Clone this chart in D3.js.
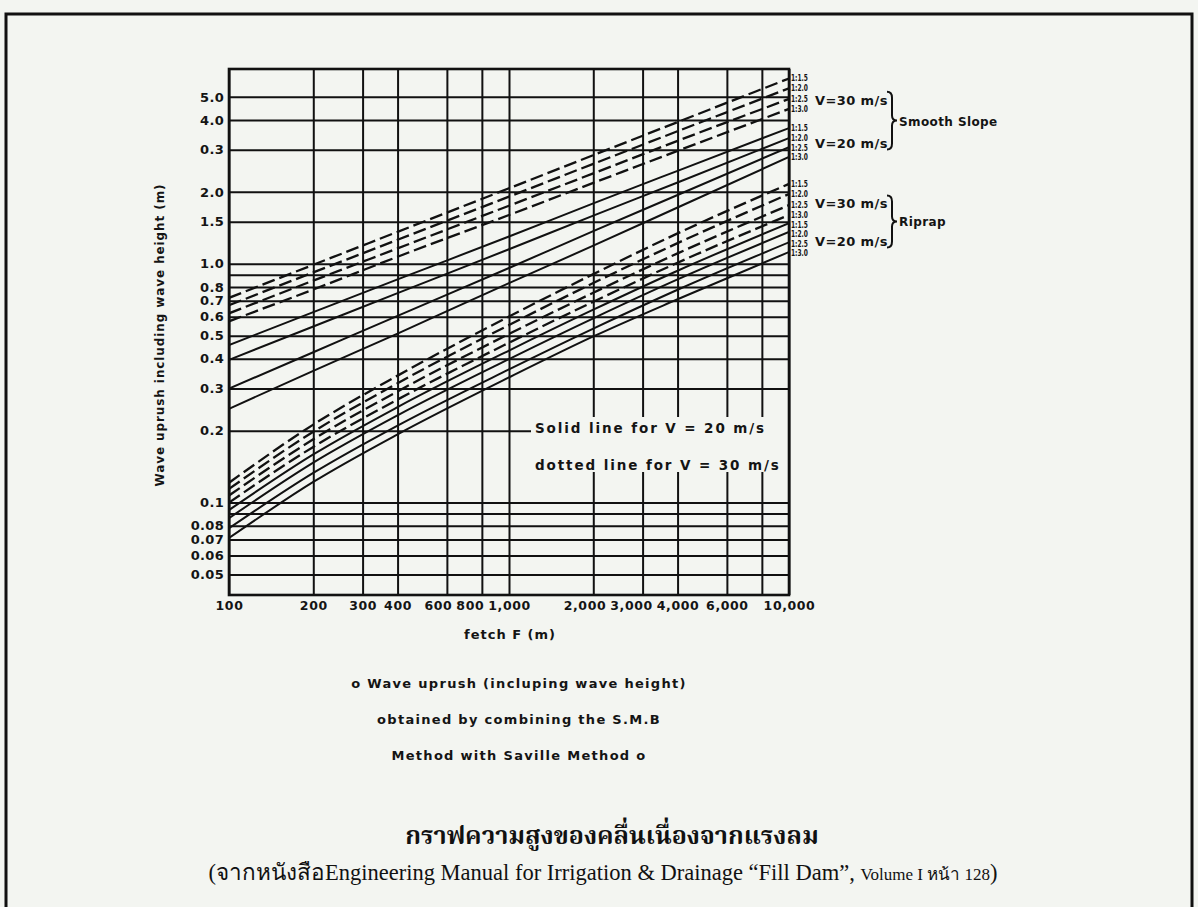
<!DOCTYPE html>
<html>
<head>
<meta charset="utf-8">
<script src="https://cdn.jsdelivr.net/npm/d3@7"></script>
<style>
body { margin: 0; background: #f3f5f1; }
svg { display: block; }
.plot text { font-family: "DejaVu Sans", sans-serif; font-weight: bold; fill: #141414; }
</style>
</head>
<body>
<div id="chart"></div>
<script>
var fetchValues = [100, 200, 400, 1000, 2000, 4000, 10000];
var slopes = ["1:1.5", "1:2.0", "1:2.5", "1:3.0"];

// wave uprush (m), one row per slope 1:1.5, 1:2.0, 1:2.5, 1:3.0
var smoothV30 = [
    [0.72, 0.99, 1.36, 2.07, 2.85, 3.92, 5.97],
    [0.67, 0.92, 1.26, 1.91, 2.62, 3.59, 5.43],
    [0.62, 0.85, 1.16, 1.75, 2.39, 3.27, 4.90],
    [0.574, 0.78, 1.07, 1.60, 2.18, 2.97, 4.45]
];
var smoothV20 = [
    [0.457, 0.627, 0.86, 1.30, 1.79, 2.45, 3.70],
    [0.396, 0.546, 0.753, 1.15, 1.59, 2.19, 3.36],
    [0.30, 0.426, 0.605, 0.96, 1.37, 1.94, 3.08],
    [0.247, 0.356, 0.51, 0.83, 1.19, 1.72, 2.80]
];
var riprapV30 = [
    [0.121, 0.212, 0.340, 0.601, 0.905, 1.34, 2.16],
    [0.114, 0.198, 0.316, 0.554, 0.830, 1.22, 1.96],
    [0.107, 0.184, 0.292, 0.508, 0.756, 1.105, 1.76],
    [0.100, 0.171, 0.270, 0.467, 0.693, 1.01, 1.60]
];
var riprapV20 = [
    [0.093, 0.159, 0.251, 0.433, 0.642, 0.935, 1.48],
    [0.086, 0.147, 0.232, 0.399, 0.591, 0.860, 1.36],
    [0.078, 0.133, 0.210, 0.361, 0.535, 0.778, 1.23],
    [0.071, 0.122, 0.193, 0.334, 0.496, 0.710, 1.12]
];

// grid + tick labels
var xGrid = [100, 200, 300, 400, 600, 800, 1000, 2000, 3000, 4000, 6000, 8000, 10000];
var xLabelValues = [100, 200, 300, 400, 600, 800, 1000, 2000, 3000, 4000, 6000, 10000];
var xLabelText = ["100", "200", "300", "400", "600", "800", "1,000", "2,000", "3,000", "4,000", "6,000", "10,000"];
var yGrid = [5, 4, 3, 2, 1.5, 1, 0.9, 0.8, 0.7, 0.6, 0.5, 0.4, 0.3, 0.2, 0.1, 0.09, 0.08, 0.07, 0.06, 0.05];
var yLabelValues = [5, 4, 3, 2, 1.5, 1, 0.8, 0.7, 0.6, 0.5, 0.4, 0.3, 0.2, 0.1, 0.08, 0.07, 0.06, 0.05];
var yLabelText = ["5.0", "4.0", "0.3", "2.0", "1.5", "1.0", "0.8", "0.7", "0.6", "0.5", "0.4", "0.3", "0.2", "0.1", "0.08", "0.07", "0.06", "0.05"];

var W = 1198, H = 907;
var plot = {left: 229, right: 789, top: 69, bottom: 595};

var svg = d3.select("#chart").append("svg")
    .attr("width", W)
    .attr("height", H);

// page frame
svg.append("rect")
    .attr("x", 6).attr("y", 14)
    .attr("width", 1186).attr("height", 910)
    .attr("fill", "none")
    .attr("stroke", "#111")
    .attr("stroke-width", 3);

var x = d3.scaleLog().domain([100, 10000]).range([plot.left, plot.right]);
var y = d3.scaleLog().domain([0.041, 6.54]).range([plot.bottom, plot.top]);

var g = svg.append("g").attr("class", "plot");

// grid lines
g.append("g")
    .attr("class", "xgrid")
    .attr("transform", "translate(0," + plot.bottom + ")")
    .call(d3.axisBottom(x).tickValues(xGrid).tickSize(-(plot.bottom - plot.top)).tickFormat(""))
    .call(function (s) { s.select(".domain").remove(); })
    .selectAll("line")
    .attr("stroke", "#111")
    .attr("stroke-width", 2);

g.append("g")
    .attr("class", "ygrid")
    .attr("transform", "translate(" + plot.left + ",0)")
    .call(d3.axisLeft(y).tickValues(yGrid).tickSize(-(plot.right - plot.left)).tickFormat(""))
    .call(function (s) { s.select(".domain").remove(); })
    .selectAll("line")
    .attr("stroke", "#111")
    .attr("stroke-width", 2);

// tick labels
var xLab = g.append("g")
    .attr("class", "xlabels")
    .attr("transform", "translate(0," + plot.bottom + ")")
    .call(d3.axisBottom(x).tickValues(xLabelValues).tickSize(0).tickPadding(6)
        .tickFormat(function (d) { return xLabelText[xLabelValues.indexOf(d)]; }))
    .call(function (s) { s.select(".domain").remove(); });
xLab.selectAll("text")
    .style("font-size", "12.5px")
    .style("letter-spacing", "0.6px");

// crowded labels slide to the left, like on the original sheet
var ticks = xLab.selectAll(".tick").nodes();
var nextLeft = Infinity;
for (var i = ticks.length - 1; i >= 0; i--) {
    var t = d3.select(ticks[i]).select("text");
    var w = t.node().getComputedTextLength();
    var cx = x(xLabelValues[i]);
    var shift = 0;
    if (cx + w / 2 > nextLeft - 4) shift = (nextLeft - 4) - (cx + w / 2);
    t.attr("dx", shift);
    nextLeft = cx + shift - w / 2;
}

g.append("g")
    .attr("class", "ylabels")
    .attr("transform", "translate(" + plot.left + ",0)")
    .call(d3.axisLeft(y).tickValues(yLabelValues).tickSize(0).tickPadding(5)
        .tickFormat(function (d) { return yLabelText[yLabelValues.indexOf(d)]; }))
    .call(function (s) { s.select(".domain").remove(); })
    .selectAll("text")
    .style("font-size", "13px")
    .style("letter-spacing", "0.3px");

// white box for the line-style note (breaks the grid)
g.append("rect")
    .attr("x", 531).attr("y", 417)
    .attr("width", plot.right - 531).attr("height", 55)
    .attr("fill", "#f3f5f1");

g.append("text")
    .attr("x", 535).attr("y", 433)
    .style("font-size", "13.5px")
    .style("letter-spacing", "1.9px")
    .text("Solid line for V = 20 m/s");
g.append("text")
    .attr("x", 535).attr("y", 470)
    .style("font-size", "13.5px")
    .style("letter-spacing", "1.9px")
    .text("dotted line for V = 30 m/s");

// frame of the plot
g.append("rect")
    .attr("x", plot.left).attr("y", plot.top)
    .attr("width", plot.right - plot.left).attr("height", plot.bottom - plot.top)
    .attr("fill", "none")
    .attr("stroke", "#111")
    .attr("stroke-width", 2.6);

// curves
svg.append("clipPath").attr("id", "clip")
    .append("rect")
    .attr("x", plot.left).attr("y", plot.top)
    .attr("width", plot.right - plot.left).attr("height", plot.bottom - plot.top);

var groups = [
    {rows: smoothV30, dashed: true},
    {rows: smoothV20, dashed: false},
    {rows: riprapV30, dashed: true},
    {rows: riprapV20, dashed: false}
];

var series = [];
groups.forEach(function (grp) {
    grp.rows.forEach(function (row, i) {
        series.push({
            slope: slopes[i],
            dashed: grp.dashed,
            values: row.map(function (v, j) { return {f: fetchValues[j], v: v}; })
        });
    });
});

var line = d3.line()
    .curve(d3.curveMonotoneX)
    .x(function (d) { return x(d.f); })
    .y(function (d) { return y(d.v); });

g.append("g")
    .attr("clip-path", "url(#clip)")
    .selectAll("path.curve")
    .data(series)
    .enter().append("path")
    .attr("class", "curve")
    .attr("d", function (d) { return line(d.values); })
    .attr("fill", "none")
    .attr("stroke", "#111")
    .attr("stroke-width", function (d) { return d.dashed ? 2.3 : 2; })
    .attr("stroke-dasharray", function (d) { return d.dashed ? "13,5" : null; });

// slope labels at the right end of each curve, kept at least 9.5px apart
var lastY = -Infinity;
series.forEach(function (d) {
    var ly = y(d.values[d.values.length - 1].v) + 3;
    if (ly < lastY + 9.5) ly = lastY + 9.5;
    d.labelY = ly;
    lastY = ly;
});

g.selectAll("text.slope")
    .data(series)
    .enter().append("text")
    .attr("class", "slope")
    .attr("x", plot.right + 2)
    .attr("y", function (d) { return d.labelY; })
    .attr("textLength", 17)
    .attr("lengthAdjust", "spacingAndGlyphs")
    .style("font-family", "'DejaVu Sans Condensed','DejaVu Sans',sans-serif")
    .style("font-size", "8px")
    .text(function (d) { return d.slope; });

// V labels, braces, group names
function groupLabel(top, bottom, name, up, down) {
    var y30 = (y(top[0][6]) + y(top[3][6])) / 2 + up;
    var y20 = (y(bottom[0][6]) + y(bottom[3][6])) / 2 + down;
    g.append("text").attr("x", 815).attr("y", y30 + 5)
        .style("font-size", "13px").style("letter-spacing", "0.4px").text("V=30 m/s");
    g.append("text").attr("x", 815).attr("y", y20 + 5)
        .style("font-size", "13px").style("letter-spacing", "0.4px").text("V=20 m/s");
    var t = y30 - 8, b = y20 + 7, m = (t + b) / 2, bx = 887;
    g.append("path")
        .attr("d", "M" + bx + "," + t + " Q" + (bx + 5) + "," + t + " " + (bx + 5) + "," + (t + 6)
            + " L" + (bx + 5) + "," + (m - 5) + " Q" + (bx + 5) + "," + m + " " + (bx + 10) + "," + m
            + " Q" + (bx + 5) + "," + m + " " + (bx + 5) + "," + (m + 5)
            + " L" + (bx + 5) + "," + (b - 6) + " Q" + (bx + 5) + "," + b + " " + bx + "," + b)
        .attr("fill", "none")
        .attr("stroke", "#111")
        .attr("stroke-width", 2);
    g.append("text").attr("x", bx + 12).attr("y", m + 5)
        .style("font-size", "12px").style("letter-spacing", "0.4px").text(name);
}
groupLabel(smoothV30, smoothV20, "Smooth Slope", 6, 0);
groupLabel(riprapV30, riprapV20, "Riprap", 4, 3);

// axis titles
g.append("text")
    .attr("transform", "translate(164,335) rotate(-90)")
    .attr("text-anchor", "middle")
    .style("font-size", "12px")
    .style("letter-spacing", "0.9px")
    .text("Wave uprush including wave height (m)");

g.append("text")
    .attr("x", 510).attr("y", 639)
    .attr("text-anchor", "middle")
    .style("font-size", "13px")
    .style("letter-spacing", "1px")
    .text("fetch F (m)");

// notes under the chart
var notes = ["o Wave uprush (incluping wave height)", "obtained by combining the S.M.B", "Method with Saville Method o"];
g.selectAll("text.note")
    .data(notes)
    .enter().append("text")
    .attr("class", "note")
    .attr("x", 519)
    .attr("y", function (d, i) { return 688 + i * 36; })
    .attr("text-anchor", "middle")
    .style("font-size", "13px")
    .style("letter-spacing", "1.3px")
    .text(function (d) { return d; });

// Thai caption
svg.append("text")
    .attr("x", 612).attr("y", 844)
    .attr("text-anchor", "middle")
    .style("font-family", "'Noto Serif Thai','Noto Sans Thai','Garuda','Loma','Norasi','DejaVu Serif',serif")
    .style("font-size", "25px")
    .style("font-weight", "bold")
    .style("fill", "#111")
    .text("กราฟความสูงของคลื่นเนื่องจากแรงลม");

var sub = svg.append("text")
    .attr("x", 603).attr("y", 880)
    .attr("text-anchor", "middle")
    .style("font-family", "'Liberation Serif','Times New Roman',serif")
    .style("font-size", "22.5px")
    .style("fill", "#111");
sub.append("tspan").text("(จากหนังสือEngineering Manual for Irrigation & Drainage \u201CFill Dam\u201D, ");
sub.append("tspan").style("font-size", "17px").text("Volume I  หน้า 128");
sub.append("tspan").text(")");
</script>
</body>
</html>
